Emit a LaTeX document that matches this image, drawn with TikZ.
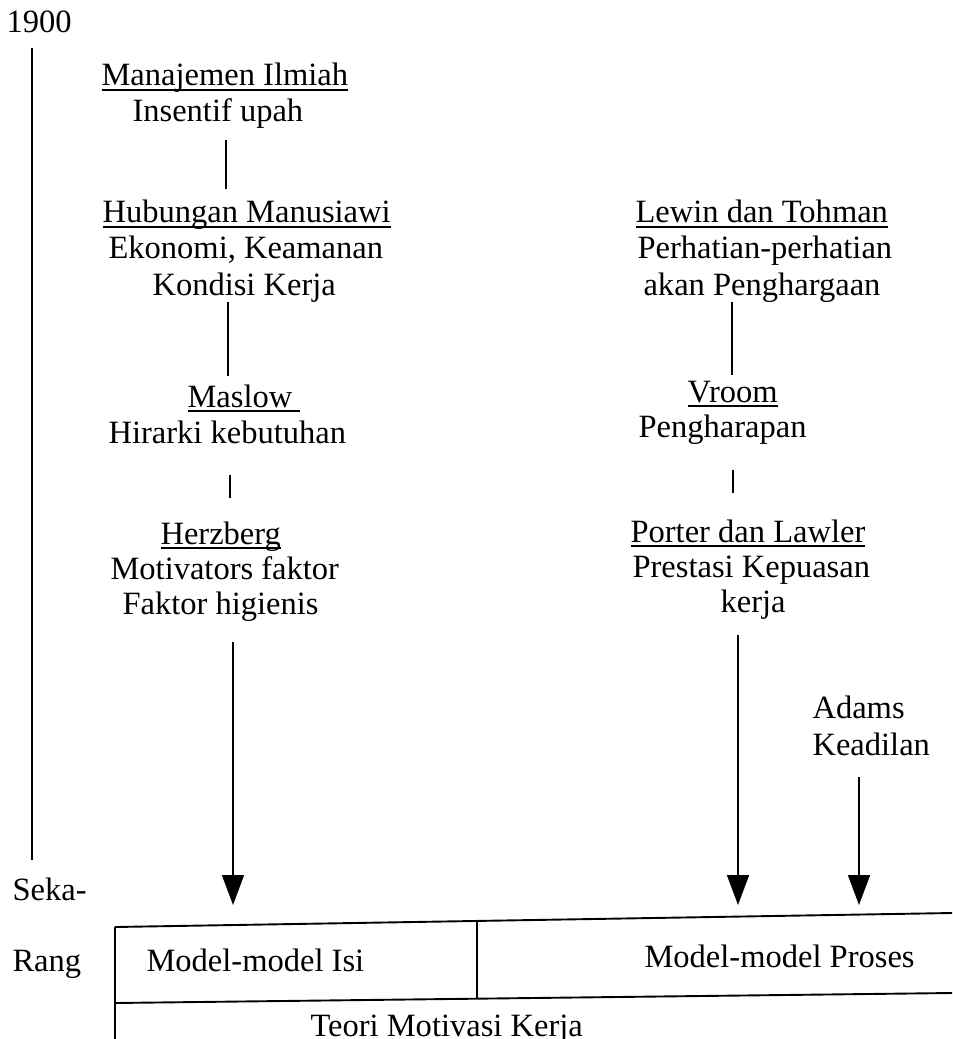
\documentclass[tikz,border=0pt]{standalone}
\usepackage{fontspec}
\setmainfont{Liberation Serif}
\usetikzlibrary{arrows.meta}
% underline at a fixed depth, crossing the descenders
\newcommand\ulx[1]{\setbox0\hbox{#1}\rlap{\rule[-1.8pt]{\wd0}{0.55pt}}\box0}
\begin{document}
\begin{tikzpicture}[x=0.369pt,y=-0.369pt,
  txt/.style={inner sep=0pt, anchor=base west, font=\fontsize{12}{14}\selectfont},
  link/.style={line width=0.8pt},
  arr/.style={line width=0.8pt,-{Triangle[length=11pt,width=8pt]}},
  frame/.style={line width=0.7pt}]
\useasboundingbox (0,0) rectangle (952,1039);

% time axis
\node[txt] (y1900) at (6,33) {1900};
\coordinate (axA) at (32,48);
\coordinate (axB) at (32,860);
\draw[link] (axA) -- (axB);

% content theories
\node[txt] (mi)  at (101,86)  {\ulx{Manajemen Ilmiah}};
\node[txt] (mi2) at (132,122) {Insentif upah};
\node[txt] (hm)  at (102,223) {\ulx{Hubungan Manusiawi}};
\node[txt] (hm2) at (108,259) {Ekonomi, Keamanan};
\node[txt] (hm3) at (152,295) {Kondisi Kerja};
\node[txt] (ms)  at (187,407) {\ulx{Maslow\ }};
\node[txt] (ms2) at (108,443) {Hirarki kebutuhan};
\node[txt] (hz)  at (160,544) {\ulx{Herzberg}};
\node[txt] (hz2) at (110,579) {Motivators faktor};
\node[txt] (hz3) at (122,614) {Faktor higienis};

\coordinate (l1a) at (226,140); \coordinate (l1b) at (226,189);
\coordinate (l2a) at (228,302); \coordinate (l2b) at (228,376);
\coordinate (l3a) at (230,475); \coordinate (l3b) at (230,498);
\coordinate (l4a) at (233,642); \coordinate (l4b) at (233,905);
\draw[link] (l1a) -- (l1b);
\draw[link] (l2a) -- (l2b);
\draw[link] (l3a) -- (l3b);
\draw[arr]  (l4a) -- (l4b);

% process theories
\node[txt] (lt)  at (635,223) {\ulx{Lewin dan Tohman}};
\node[txt] (lt2) at (637,259) {Perhatian-perhatian};
\node[txt] (lt3) at (643,295) {akan Penghargaan};
\node[txt] (vr)  at (687,402) {\ulx{Vroom}};
\node[txt] (vr2) at (638,437) {Pengharapan};
\node[txt] (pl)  at (630,542) {\ulx{Porter dan Lawler}};
\node[txt] (pl2) at (632,577) {Prestasi Kepuasan};
\node[txt] (pl3) at (720,612) {kerja};
\node[txt] (ad)  at (812,718) {Adams};
\node[txt] (ad2) at (812,755) {Keadilan};

\coordinate (r1a) at (732,302); \coordinate (r1b) at (732,375);
\coordinate (r2a) at (733,470); \coordinate (r2b) at (733,493);
\coordinate (r3a) at (738,635); \coordinate (r3b) at (738,905);
\coordinate (r4a) at (859,777); \coordinate (r4b) at (859,905);
\draw[link] (r1a) -- (r1b);
\draw[link] (r2a) -- (r2b);
\draw[arr]  (r3a) -- (r3b);
\draw[arr]  (r4a) -- (r4b);

% present-day labels
\node[txt] (sk) at (12,900) {Seka-};
\node[txt] (rg) at (12,971) {Rang};

% summary table
\coordinate (tTL) at (115,927);  \coordinate (tTR) at (952,913);
\coordinate (tML) at (115,1003); \coordinate (tMR) at (952,993);
\coordinate (tBL) at (115,1045);
\coordinate (dvT) at (477,921);  \coordinate (dvB) at (477,999);
\draw[frame] (tTL) -- (tTR);
\draw[frame] (tML) -- (tMR);
\draw[frame] (tTL) -- (tBL);
\draw[frame] (dvT) -- (dvB);
\node[txt] (isi) at (146,971) {Model-model Isi};
\node[txt] (pro) at (644,967) {Model-model Proses};
\node[txt] (tmk) at (310,1036) {Teori Motivasi Kerja};
\end{tikzpicture}
\end{document}
